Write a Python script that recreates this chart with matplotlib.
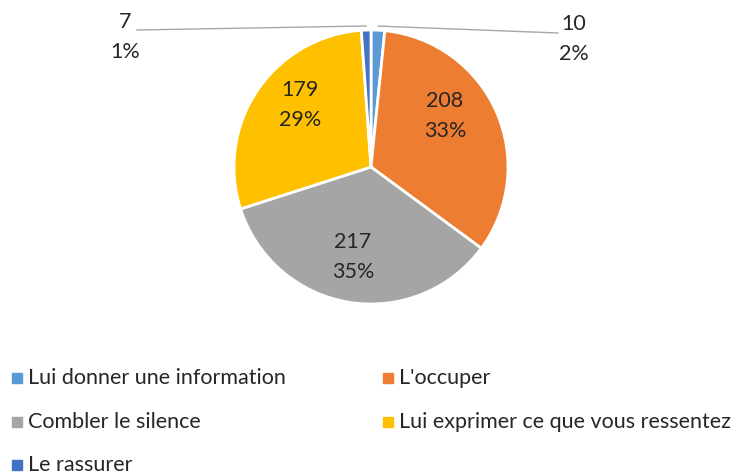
import numpy as np
import matplotlib.pyplot as plt

plt.rcParams['font.family'] = ['Lato', 'DejaVu Sans']

categories = ["Lui donner une information", "L'occuper", "Combler le silence",
              "Lui exprimer ce que vous ressentez", "Le rassurer"]
counts = [10, 208, 217, 179, 7]
colors = ['#5B9BD5', '#ED7D31', '#A5A5A5', '#FFC000', '#4472C4']

W, H = 744, 475
cx, cy, R = 371, 167, 137  # pie centre (from top-left) and radius in pixels


def px(x, y):
    # pixel position (from top-left) -> data units of the pie axes
    return (x - cx) / R, (cy - y) / R


fig = plt.figure(figsize=(W / 100, H / 100), dpi=100)
ax = fig.add_axes([0, 0, 1, 1])

wedges, _ = ax.pie(counts, colors=colors, startangle=90, counterclock=False,
                   radius=1.0, wedgeprops=dict(edgecolor='white', linewidth=2))

# pie() resets the limits, so set them afterwards
ax.set_xlim(-cx / R, (W - cx) / R)
ax.set_ylim(-(H - cy) / R, cy / R)
ax.set_aspect('equal')
ax.axis('off')

total = sum(counts)
pcts = [round(100 * c / total) for c in counts]
text_col = '#262626'
fs = 15.5

# where each data label sits (pixels), and the end of its leader line if any
label_pos = {0: (574, 39), 1: (445, 116), 2: (353, 257), 3: (300, 105), 4: (125, 37)}
leader_end = {0: (558, 33), 4: (137, 30)}

for i, w in enumerate(wedges):
    label = f"{counts[i]}\n{pcts[i]}%"
    tx, ty = px(*label_pos[i])
    if i in leader_end:
        mid = np.deg2rad((w.theta1 + w.theta2) / 2)
        ex, ey = px(*leader_end[i])
        ax.plot([1.03 * np.cos(mid), ex], [1.03 * np.sin(mid), ey],
                color='#A6A6A6', lw=1)
    ax.text(tx, ty, label, ha='center', va='center', fontsize=fs,
            color=text_col, linespacing=1.65)

# legend, two columns filled row by row
col_x = [17, 388]
row_y = [378, 422, 465]
for i, name in enumerate(categories):
    mx, my = col_x[i % 2], row_y[i // 2]
    ax.plot(*px(mx, my), marker='s', ms=6.5, color=colors[i], ls='', clip_on=False)
    ax.text(*px(mx + 11, my), name, ha='left', va='center', fontsize=15.5,
            color=text_col)

fig.savefig('out.png', dpi=100)
